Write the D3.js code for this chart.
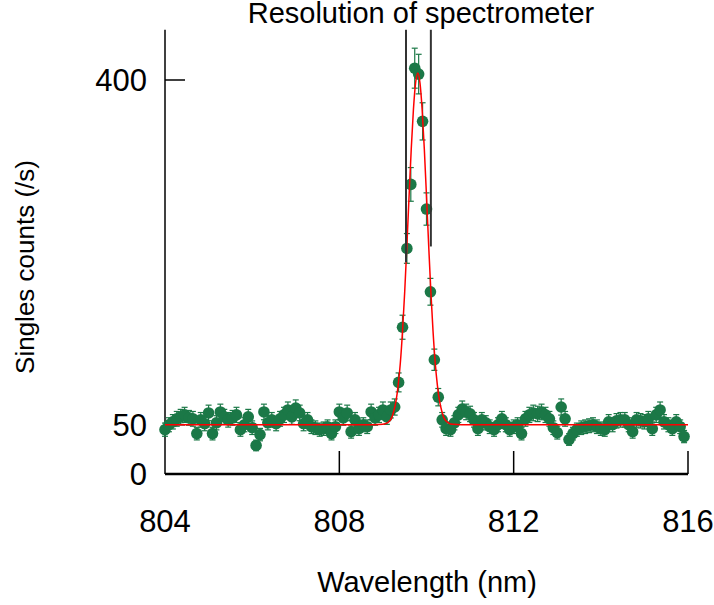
<!DOCTYPE html>
<html>
<head>
<meta charset="utf-8">
<title>Resolution of spectrometer</title>
<script src="https://d3js.org/d3.v7.min.js"></script>
<style>
  html, body { margin: 0; padding: 0; background: #fff; }
  svg { display: block; font-family: "Liberation Sans", Arial, Helvetica, sans-serif; }
</style>
</head>
<body>
<svg width="714" height="605"></svg>
<script>
// measured wavelengths (nm)
const wavelength = [
  804.00, 804.09, 804.18, 804.27, 804.36, 804.45, 804.55, 804.64, 804.73, 804.82,
  804.91, 805.00, 805.09, 805.18, 805.27, 805.36, 805.45, 805.55, 805.64, 805.73,
  805.82, 805.91, 806.00, 806.09, 806.18, 806.27, 806.36, 806.45, 806.55, 806.64,
  806.73, 806.82, 806.91, 807.00, 807.09, 807.18, 807.27, 807.36, 807.45, 807.55,
  807.64, 807.73, 807.82, 807.91, 808.00, 808.09, 808.18, 808.27, 808.36, 808.45,
  808.55, 808.64, 808.73, 808.82, 808.91, 809.00, 809.09, 809.18, 809.27, 809.36,
  809.45, 809.55, 809.64, 809.73, 809.82, 809.91, 810.00, 810.09, 810.18, 810.27,
  810.36, 810.45, 810.55, 810.64, 810.73, 810.82, 810.91, 811.00, 811.09, 811.18,
  811.27, 811.36, 811.45, 811.55, 811.64, 811.73, 811.82, 811.91, 812.00, 812.09,
  812.18, 812.27, 812.36, 812.45, 812.55, 812.64, 812.73, 812.82, 812.91, 813.00,
  813.09, 813.18, 813.27, 813.36, 813.45, 813.55, 813.64, 813.73, 813.82, 813.91,
  814.00, 814.09, 814.18, 814.27, 814.36, 814.45, 814.55, 814.64, 814.73, 814.82,
  814.91, 815.00, 815.09, 815.18, 815.27, 815.36, 815.45, 815.55, 815.64, 815.73,
  815.82, 815.91
];
// singles counts (/s)
const counts = [
  45, 50, 53, 56, 58, 60, 57, 56, 41, 55,
  51, 62, 41, 52, 63, 58, 55, 57, 60, 45,
  50, 58, 47, 29, 40, 63, 52, 55, 51, 56,
  60, 65, 58, 67, 62, 51, 55, 48, 47, 45,
  46, 48, 41, 48, 63, 57, 62, 43, 55, 46,
  50, 48, 63, 57, 60, 65, 58, 65, 68, 93,
  149, 229, 294, 412, 406, 358, 269, 185, 116, 78,
  55, 46, 45, 52, 60, 66, 63, 61, 55, 46,
  55, 52, 48, 45, 50, 56, 50, 45, 48, 50,
  41, 56, 60, 62, 61, 63, 60, 56, 47, 42,
  68, 56, 35, 41, 45, 47, 48, 49, 50, 48,
  46, 45, 53, 50, 54, 55, 55, 50, 43, 55,
  54, 53, 56, 46, 60, 65, 53, 50, 46, 53,
  48, 38
];
// error bars (+/-)
const errors = [
  6.7, 7.1, 7.3, 7.5, 7.6, 7.7, 7.5, 7.5, 6.4, 7.4,
  7.1, 7.9, 6.4, 7.2, 7.9, 7.6, 7.4, 7.5, 7.7, 6.7,
  7.1, 7.6, 6.9, 5.4, 6.3, 7.9, 7.2, 7.4, 7.1, 7.5,
  7.7, 8.1, 7.6, 8.2, 7.9, 7.1, 7.4, 6.9, 6.9, 6.7,
  6.8, 6.9, 6.4, 6.9, 7.9, 7.5, 7.9, 6.6, 7.4, 6.8,
  7.1, 6.9, 7.9, 7.5, 7.7, 8.1, 7.6, 8.1, 8.2, 9.6,
  12.2, 15.1, 17.1, 20.3, 20.1, 18.9, 16.4, 13.6, 10.8, 8.8,
  7.4, 6.8, 6.7, 7.2, 7.7, 8.1, 7.9, 7.8, 7.4, 6.8,
  7.4, 7.2, 6.9, 6.7, 7.1, 7.5, 7.1, 6.7, 6.9, 7.1,
  6.4, 7.5, 7.7, 7.9, 7.8, 7.9, 7.7, 7.5, 6.9, 6.5,
  8.2, 7.5, 5.9, 6.4, 6.7, 6.9, 6.9, 7.0, 7.1, 6.9,
  6.8, 6.7, 7.3, 7.1, 7.3, 7.4, 7.4, 7.1, 6.6, 7.4,
  7.3, 7.3, 7.5, 6.8, 7.7, 8.1, 7.3, 7.1, 6.8, 7.3,
  6.9, 6.2
];
// fitted curve, sampled
const fitX = [804.0, 808.8, 809.0, 809.1, 809.2, 809.25, 809.3, 809.35, 809.4, 809.45,
  809.5, 809.55, 809.6, 809.65, 809.7, 809.75, 809.8, 809.85, 809.9, 809.95,
  810.0, 810.05, 810.1, 810.15, 810.2, 810.25, 810.3, 810.35, 810.4, 810.5,
  810.6, 810.8, 816.0];
const fitY = [50, 50, 50.4, 51.8, 57, 64, 74, 90, 113, 145,
  185, 232, 282, 330, 370, 397, 407, 397, 370, 330,
  282, 232, 185, 145, 113, 90, 74, 64, 57, 52,
  50.4, 50, 50];
// resolution markers
const markerX = [809.53, 810.10];
const markerLow = [215, 231];
const markerHigh = [451, 451];

const xTicks = [804, 808, 812, 816];
const yTicks = [0, 50, 400];

const svg = d3.select("svg");
const x = d3.scaleLinear().domain([804, 816]).range([165, 688]);
const y = d3.scaleLinear().domain([0, 400]).range([474, 80]);

const green = "#1b7847";
const data = wavelength.map((w, i) => ({ w: w, c: counts[i], e: errors[i] }));

// axes
svg.append("line")
  .attr("x1", x(804)).attr("x2", x(804))
  .attr("y1", y(0)).attr("y2", y(451))
  .attr("stroke", "#000").attr("stroke-width", 1.5);
svg.append("line")
  .attr("x1", x(804)).attr("x2", x(816))
  .attr("y1", y(0)).attr("y2", y(0))
  .attr("stroke", "#000").attr("stroke-width", 2.5);

svg.selectAll(".xtick")
  .data(xTicks.slice(1))
  .enter().append("line")
  .attr("x1", d => x(d)).attr("x2", d => x(d))
  .attr("y1", y(0)).attr("y2", y(0) - 23)
  .attr("stroke", "#000").attr("stroke-width", 1.5);

svg.selectAll(".ytick")
  .data(yTicks.slice(1))
  .enter().append("line")
  .attr("x1", x(804)).attr("x2", x(804) + 20)
  .attr("y1", d => y(d)).attr("y2", d => y(d))
  .attr("stroke", "#000").attr("stroke-width", 1.5);

svg.selectAll(".xlabel")
  .data(xTicks)
  .enter().append("text")
  .attr("x", d => x(d)).attr("y", 532)
  .attr("text-anchor", "middle")
  .attr("font-size", 31)
  .text(d => d);

svg.selectAll(".ylabel")
  .data(yTicks)
  .enter().append("text")
  .attr("x", 147).attr("y", d => y(d))
  .attr("dy", "0.36em")
  .attr("text-anchor", "end")
  .attr("font-size", 31)
  .text(d => d);

svg.append("text")
  .attr("x", 427).attr("y", 592)
  .attr("text-anchor", "middle")
  .attr("font-size", 29)
  .text("Wavelength (nm)");

svg.append("text")
  .attr("transform", "translate(34,267) rotate(-90)")
  .attr("text-anchor", "middle")
  .attr("font-size", 26)
  .text("Singles counts (/s)");

svg.append("text")
  .attr("x", 421).attr("y", 23)
  .attr("text-anchor", "middle")
  .attr("font-size", 29)
  .text("Resolution of spectrometer");

// error bars
const eb = svg.append("g")
  .attr("stroke", green).attr("stroke-width", 1.2).attr("fill", "none");
eb.selectAll(".stem")
  .data(data).enter().append("line")
  .attr("x1", d => x(d.w)).attr("x2", d => x(d.w))
  .attr("y1", d => y(d.c - d.e)).attr("y2", d => y(d.c + d.e));
eb.selectAll(".capTop")
  .data(data).enter().append("line")
  .attr("x1", d => x(d.w) - 3).attr("x2", d => x(d.w) + 3)
  .attr("y1", d => y(d.c + d.e)).attr("y2", d => y(d.c + d.e));
eb.selectAll(".capBottom")
  .data(data).enter().append("line")
  .attr("x1", d => x(d.w) - 3).attr("x2", d => x(d.w) + 3)
  .attr("y1", d => y(d.c - d.e)).attr("y2", d => y(d.c - d.e));

// points
svg.append("g").selectAll("circle")
  .data(data).enter().append("circle")
  .attr("cx", d => x(d.w)).attr("cy", d => y(d.c))
  .attr("r", 5.8)
  .attr("fill", green);

// fit
const line = d3.line()
  .x((d, i) => x(fitX[i]))
  .y(d => y(d))
  .curve(d3.curveMonotoneX);
svg.append("path")
  .datum(fitY)
  .attr("d", line)
  .attr("fill", "none")
  .attr("stroke", "#ff0000")
  .attr("stroke-width", 1.5);

// resolution markers
svg.selectAll(".marker")
  .data(markerX).enter().append("line")
  .attr("x1", d => x(d)).attr("x2", d => x(d))
  .attr("y1", (d, i) => y(markerLow[i])).attr("y2", (d, i) => y(markerHigh[i]))
  .attr("stroke", "#333").attr("stroke-width", 2);
</script>
</body>
</html>
